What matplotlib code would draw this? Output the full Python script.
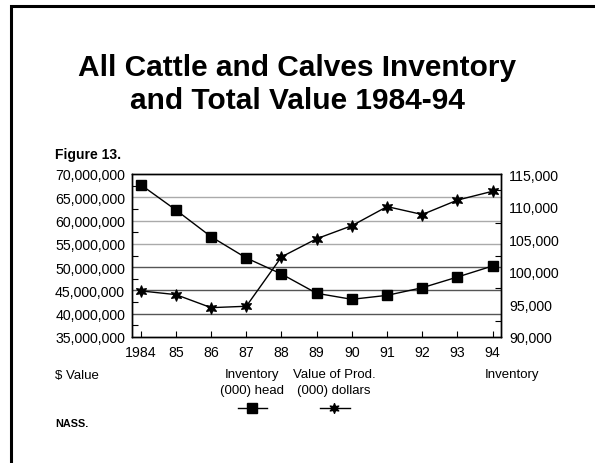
import matplotlib
matplotlib.use("Agg")
import matplotlib.pyplot as plt
from matplotlib.patches import Rectangle
from matplotlib.lines import Line2D
from matplotlib.ticker import FixedLocator, FuncFormatter
import matplotlib.path as mpath

plt.rcParams['font.family'] = ['Liberation Sans', 'DejaVu Sans']

years = [1984, 1985, 1986, 1987, 1988, 1989, 1990, 1991, 1992, 1993, 1994]
year_labels = ['1984', '85', '86', '87', '88', '89', '90', '91', '92', '93', '94']
# Inventory (000) head  -> right axis
inventory = [113360, 109480, 105380, 102120, 99660, 96700, 95780, 96390, 97560, 99200, 100900]
# Value of Prod. (000) dollars -> left axis
value = [44900000, 44100000, 41300000, 41600000, 52200000, 56100000,
         58900000, 63000000, 61300000, 64400000, 66300000]

left_ticks = [35000000, 40000000, 45000000, 50000000, 55000000, 60000000, 65000000, 70000000]
right_ticks = [90000, 95000, 100000, 105000, 110000, 115000]

W, H = 595, 464
fig = plt.figure(figsize=(W / 100, H / 100), dpi=100)

def fx(x):
    return x / W

def fy(y):
    return 1 - y / H

# outer frame (left and top edges visible)
fig.add_artist(Rectangle((fx(10.7), -0.1), 1.2, fy(6.5) + 0.1, fill=False,
                         edgecolor='black', linewidth=2.2, transform=fig.transFigure,
                         clip_on=False))

ax_l, ax_r, ax_t, ax_b = 132, 501, 175, 338
ax = fig.add_axes([fx(ax_l), fy(ax_b), (ax_r - ax_l) / W, (ax_b - ax_t) / H])
ax2 = ax.twinx()

ax.set_xlim(1983.753, 1994.236)
ax.set_ylim(35000000, 70000000)
ax2.set_ylim(90000, 115000)

# gridlines
grid_colors = {40000000: '#555555', 45000000: '#555555', 50000000: '#555555',
               55000000: '#aaaaaa', 60000000: '#aaaaaa', 65000000: '#aaaaaa'}
for v, c in grid_colors.items():
    ax.axhline(v, color=c, linewidth=1.0, zorder=1)

star = mpath.Path.unit_regular_star(6, 0.45)

ax.plot(years, value, color='black', linewidth=1.0, marker=star, markersize=8,
        markerfacecolor='black', markeredgecolor='black', zorder=3)
ax2.plot(years, inventory, color='black', linewidth=1.0, marker='s', markersize=7.2,
         markerfacecolor='black', markeredgecolor='black', zorder=3)

for a in (ax, ax2):
    for s in a.spines.values():
        s.set_color('black')
        s.set_linewidth(1.0)

ax.set_xticks(years)
ax.set_xticklabels(year_labels)
ax.tick_params(axis='x', direction='in', length=4, width=0.8, pad=6, labelsize=10.2)

ax.yaxis.set_major_locator(FixedLocator(left_ticks))
ax.yaxis.set_minor_locator(FixedLocator([v + 2500000 for v in left_ticks[:-1]]))
ax.yaxis.set_major_formatter(FuncFormatter(lambda v, p: f"{int(v):,}"))
ax.tick_params(axis='y', which='major', length=0, pad=5, labelsize=10.2)
ax.tick_params(axis='y', which='minor', direction='in', length=4, width=0.8)

ax2.yaxis.set_major_locator(FixedLocator(right_ticks))
ax2.yaxis.set_minor_locator(FixedLocator([v + 2500 for v in right_ticks[:-1]]))
ax2.yaxis.set_major_formatter(FuncFormatter(lambda v, p: f"{int(v):,}"))
ax2.tick_params(axis='y', which='major', length=0, pad=6, labelsize=10.2)
ax2.tick_params(axis='y', which='minor', direction='in', length=4, width=0.8)

# title
fig.text(fx(297), fy(68), "All Cattle and Calves Inventory", ha='center', va='center',
         fontsize=21.5, fontweight='bold')
fig.text(fx(297), fy(101), "and Total Value 1984-94", ha='center', va='center',
         fontsize=21.5, fontweight='bold')

fig.text(fx(55), fy(155), "Figure 13.", ha='left', va='center', fontsize=10,
         fontweight='bold')

fig.text(fx(55), fy(376), "$ Value", ha='left', va='center', fontsize=9.5)
fig.text(fx(539), fy(375), "Inventory", ha='right', va='center', fontsize=9.5)
fig.text(fx(252), fy(375), "Inventory", ha='center', va='center', fontsize=9.5)
fig.text(fx(252), fy(391), "(000) head", ha='center', va='center', fontsize=9.5)
fig.text(fx(334), fy(375), "Value of Prod.", ha='center', va='center', fontsize=9.5)
fig.text(fx(334), fy(391), "(000) dollars", ha='center', va='center', fontsize=9.5)

fig.add_artist(Line2D([fx(238), fx(267)], [fy(409), fy(409)], color='black', linewidth=1.0,
                      transform=fig.transFigure))
fig.add_artist(Line2D([fx(252)], [fy(409)], color='black', marker='s', markersize=6.5,
                      linestyle='none', transform=fig.transFigure))
fig.add_artist(Line2D([fx(320), fx(350)], [fy(409), fy(409)], color='black', linewidth=1.0,
                      transform=fig.transFigure))
fig.add_artist(Line2D([fx(334)], [fy(409)], color='black', marker=star, markersize=7,
                      linestyle='none', transform=fig.transFigure))

fig.text(fx(55), fy(424), "NASS.", ha='left', va='center', fontsize=7.8, fontweight='bold')

fig.savefig("out.png", dpi=100)
